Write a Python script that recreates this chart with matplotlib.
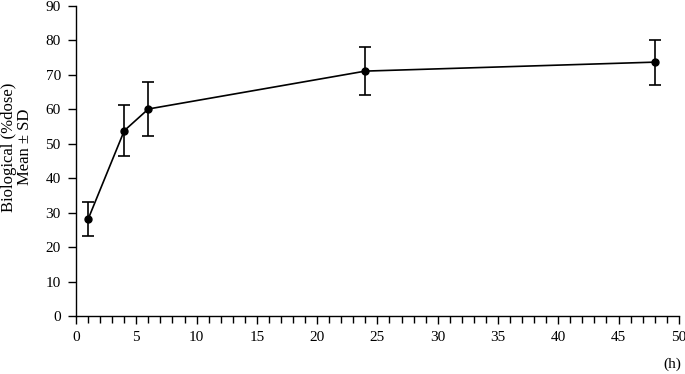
import matplotlib
matplotlib.use('Agg')
import matplotlib.pyplot as plt
from matplotlib.ticker import MultipleLocator

# data
hours = [1, 4, 6, 24, 48]
mean = [28.1, 53.8, 60.1, 71.1, 73.7]
sd = [5.0, 7.4, 7.9, 6.9, 6.5]

plt.rcParams['font.family'] = ['Liberation Serif', 'DejaVu Serif']
plt.rcParams['font.size'] = 11

fig = plt.figure(figsize=(6.85, 3.74), dpi=100)
ax = fig.add_axes([0.111, 0.155, 0.880, 0.829])

ax.errorbar(hours, mean, yerr=sd, color='black', marker='o', markersize=5,
            linewidth=1.2, elinewidth=1.2, capsize=4, capthick=1.2)

ax.set_xlim(0, 50)
ax.set_ylim(0, 90)
ax.xaxis.set_major_locator(MultipleLocator(5))
ax.xaxis.set_minor_locator(MultipleLocator(1))
ax.yaxis.set_major_locator(MultipleLocator(10))
ax.tick_params(which='major', length=6, width=1, direction='out', pad=5)
ax.tick_params(which='minor', length=5, width=1, direction='out')
for s in ['top', 'right']:
    ax.spines[s].set_visible(False)
for s in ['left', 'bottom']:
    ax.spines[s].set_linewidth(1)

fig.text(0.0245, 0.607, 'Biological (%dose)\nMean ± SD', rotation=90,
         ha='center', va='center', fontsize=12, linespacing=1.0)
fig.text(0.981, 0.027, '(h)', ha='center', va='center', fontsize=11)

fig.savefig('out.png', dpi=100)
